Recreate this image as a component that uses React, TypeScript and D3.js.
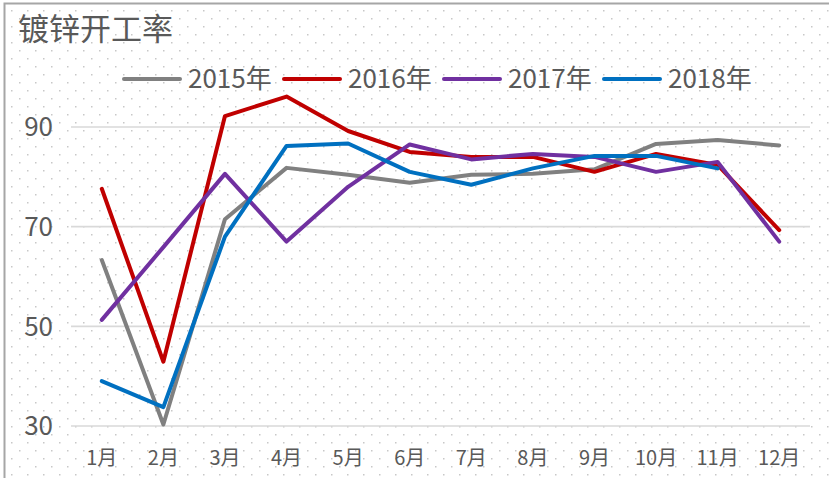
import React, { useEffect, useRef } from 'react'
import * as d3 from 'd3'

const width = 829
const height = 478

const months = ['1月', '2月', '3月', '4月', '5月', '6月', '7月', '8月', '9月', '10月', '11月', '12月']
const yTicks = [30, 50, 70, 90]
const seriesNames = ['2015年', '2016年', '2017年', '2018年']
const seriesColors = ['#808080', '#C00000', '#7030A0', '#0070C0']

const values2015 = [63.3, 30.3, 71.5, 81.8, 80.4, 78.8, 80.4, 80.6, 81.5, 86.6, 87.4, 86.3]
const values2016 = [77.6, 42.9, 92.2, 96.1, 89.2, 85.0, 84.0, 84.0, 81.0, 84.6, 82.4, 69.3]
const values2017 = [51.3, 65.9, 80.6, 67.0, 78.0, 86.5, 83.5, 84.6, 84.0, 81.0, 83.0, 67.0]
const values2018 = [39.0, 33.8, 68.0, 86.2, 86.7, 81.0, 78.4, 81.7, 84.2, 84.2, 81.7]

const allSeries = [values2015, values2016, values2017, values2018]

const textColor = '#595959'
const font = "'Noto Sans CJK SC', 'Noto Sans', sans-serif"

export default function App() {
	const svgRef = useRef<SVGSVGElement>(null)

	useEffect(() => {
		const root = d3.select(svgRef.current)
		root.selectAll('*').remove()

		// dotted chart background
		const defs = root.append('defs')
		const pat = defs.append('pattern')
			.attr('id', 'dots')
			.attr('patternUnits', 'userSpaceOnUse')
			.attr('x', 3).attr('y', 2)
			.attr('width', 16).attr('height', 16)
		pat.append('rect').attr('x', 8).attr('y', 8).attr('width', 1.5).attr('height', 1.5).attr('fill', '#c8c8c8')
		pat.append('rect').attr('x', 0).attr('y', 0).attr('width', 1.5).attr('height', 1.5).attr('fill', '#c8c8c8')

		root.append('rect').attr('width', width).attr('height', height).attr('fill', '#fff')
		root.append('rect').attr('x', 4).attr('y', 3).attr('width', width).attr('height', height).attr('fill', 'url(#dots)')

		// outer border, only left and top show in the frame
		root.append('path')
			.attr('d', `M4.5,${height}V3.5H${width}`)
			.attr('fill', 'none')
			.attr('stroke', '#a6a6a6')
			.attr('stroke-width', 2)

		const x = d3.scaleBand<string>().domain(months).range([71, 810])
		const y = d3.scaleLinear().domain([30, 90]).range([426, 127])
		const cx = (m: string) => (x(m) as number) + x.bandwidth() / 2

		// gridlines
		root.append('g').selectAll('line').data(yTicks).enter().append('line')
			.attr('x1', 71).attr('x2', 810)
			.attr('y1', (d) => y(d)).attr('y2', (d) => y(d))
			.attr('stroke', '#d9d9d9')
			.attr('stroke-width', 1.6)

		// y labels
		root.append('g').selectAll('text').data(yTicks).enter().append('text')
			.attr('x', 53)
			.attr('y', (d) => y(d))
			.attr('dy', '0.36em')
			.attr('text-anchor', 'end')
			.attr('font-family', font)
			.attr('font-size', 26)
			.attr('fill', textColor)
			.text((d) => d)

		// x labels
		root.append('g').selectAll('text').data(months).enter().append('text')
			.attr('x', (d) => cx(d))
			.attr('y', 465)
			.attr('text-anchor', 'middle')
			.attr('font-family', font)
			.attr('font-size', 20)
			.attr('fill', textColor)
			.text((d) => d)

		// series lines
		const line = d3.line<number>()
			.x((d, i) => cx(months[i]))
			.y((d) => y(d))
		root.append('g').selectAll('path').data(allSeries).enter().append('path')
			.attr('d', (d) => line(d))
			.attr('fill', 'none')
			.attr('stroke', (d, i) => seriesColors[i])
			.attr('stroke-width', 4)
			.attr('stroke-linejoin', 'round')
			.attr('stroke-linecap', 'round')

		// title
		root.append('text')
			.attr('x', 18).attr('y', 40)
			.attr('font-family', font)
			.attr('font-size', 31)
			.attr('fill', textColor)
			.text('镀锌开工率')

		// legend
		const legend = root.append('g').selectAll('g').data(seriesNames).enter().append('g')
			.attr('transform', (d, i) => `translate(${124 + i * 160}, 79)`)
		legend.append('line')
			.attr('x1', 0).attr('x2', 56)
			.attr('stroke', (d, i) => seriesColors[i])
			.attr('stroke-width', 4)
			.attr('stroke-linecap', 'round')
		legend.append('text')
			.attr('x', 64)
			.attr('dy', '0.36em')
			.attr('font-family', font)
			.attr('font-size', 26)
			.attr('fill', textColor)
			.text((d) => d)
	}, [])

	return (
		<>
			<style>{'body{margin:0}'}</style>
			<svg ref={svgRef} width={width} height={height} style={{ display: 'block' }} />
		</>
	)
}
